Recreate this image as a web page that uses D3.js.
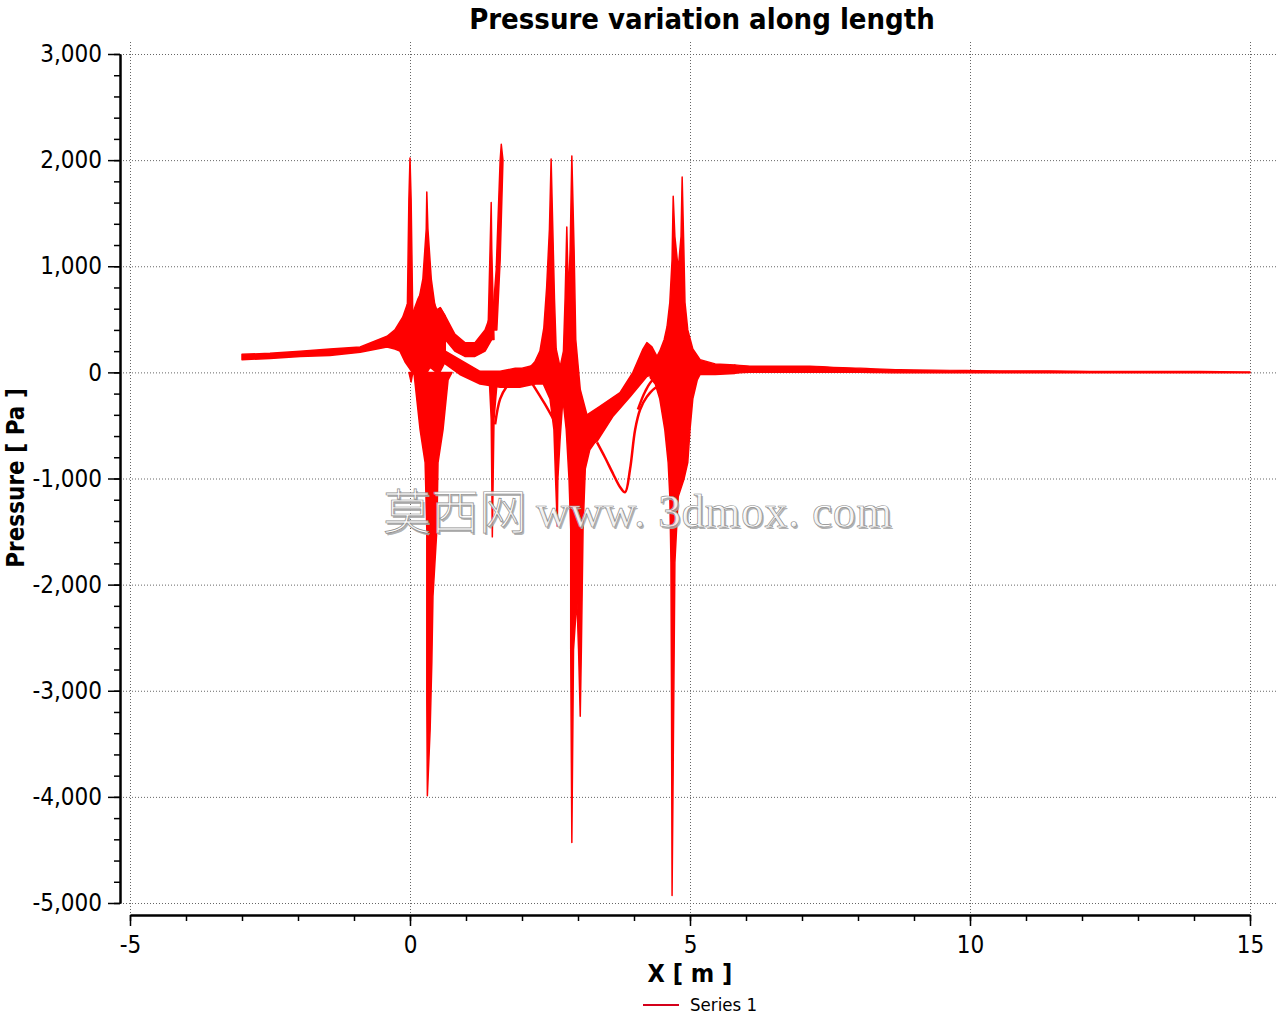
<!DOCTYPE html>
<html>
<head>
<meta charset="utf-8">
<script src="https://cdn.jsdelivr.net/npm/d3@7"></script>
<style>
  html, body { margin: 0; padding: 0; background: #fff; }
  #chart { width: 1276px; height: 1020px; }
  .axis text { font-family: "DejaVu Sans Condensed", "DejaVu Sans", sans-serif; font-stretch: condensed; font-size: 24px; fill: #000; }
  .axis path, .axis line { stroke: #000; }
  .grid line { stroke: #666; stroke-width: 1; stroke-dasharray: 1 2; }
  .title, .axis-label { font-family: "DejaVu Sans Condensed", "DejaVu Sans", sans-serif; font-stretch: condensed; font-weight: bold; fill: #000; }
</style>
</head>
<body>
<div id="chart"></div>
<script>
// Pressure variation along length
const xTicks = [-5, 0, 5, 10, 15];
const yTicks = [3000, 2000, 1000, 0, -1000, -2000, -3000, -4000, -5000];

// filled regions of the overlapping Series 1 curves, as [x (m), pressure (Pa)] outlines
const inletBand = [
  [-3.00, 170], [-2.50, 180], [-1.96, 200], [-1.43, 220], [-0.89, 240], [-0.41, 340], [-0.27, 400],
  [-0.13, 520], [-0.05, 640], [0.05, 560], [0.14, 690], [0.21, 760], [0.39, 710], [0.48, 590],
  [0.54, 610], [0.63, 530],
  [0.63, 100], [0.54, 10], [0.45, 10], [0.36, 50], [0.27, -30], [0.18, -50], [0.09, -30], [0.00, 30],
  [-0.09, 100], [-0.18, 200], [-0.27, 220], [-0.41, 240], [-0.89, 190], [-1.43, 160], [-1.96, 150],
  [-2.50, 130], [-3.00, 120]
];
const humpBand = [
  [0.54, 610], [0.63, 530], [0.80, 360], [0.98, 280], [1.16, 280], [1.34, 400], [1.46, 570],
  [1.46, 310], [1.34, 200], [1.16, 150], [0.98, 150], [0.80, 200], [0.63, 310]
];
const lowBand = [
  [0.63, 200], [0.89, 120], [1.25, 10], [1.61, 10], [1.88, 40], [2.00, 40], [2.23, 70],
  [2.23, -110], [1.96, -140], [1.61, -140], [1.25, -110], [0.89, -20], [0.63, 80]
];
const spikeA = [[-0.05, 500], [-0.02, 1630], [0.00, 2020], [0.02, 1630], [0.05, 500]];
const spikeB = [[0.11, 550], [0.23, 880], [0.29, 1350], [0.30, 1700], [0.32, 1350], [0.38, 880], [0.46, 570]];
const spikeC = [[1.39, 310], [1.43, 1160], [1.45, 1600], [1.46, 1160], [1.50, 310]];
const spikeD = [[1.46, 400], [1.54, 970], [1.61, 2000], [1.63, 2150], [1.66, 2000], [1.61, 1060], [1.55, 400]];
const dipA = [[-0.02, 0], [0.02, -90], [0.05, 0]];
const dipB = [
  [0.07, 0], [0.18, -540], [0.27, -850], [0.30, -1480], [0.30, -3080], [0.31, -3990], [0.36, -3360],
  [0.39, -2730], [0.41, -2110], [0.48, -1480], [0.50, -850], [0.59, -540], [0.68, -70], [0.75, 0]
];
const dipC = [[1.41, 0], [1.45, -440], [1.47, -1550], [1.50, -440], [1.57, 0]];
const throatMass = [
  [2.11, 30], [2.23, 100], [2.32, 200], [2.39, 420], [2.44, 800], [2.49, 1350], [2.52, 2010],
  [2.55, 1350], [2.58, 690], [2.61, 220], [2.68, 50], [2.74, 200], [2.77, 700], [2.80, 1370],
  [2.83, 700], [2.86, 1160], [2.89, 2040], [2.93, 1160], [2.96, 310], [3.04, -160], [3.16, -400],
  [3.34, -630], [3.21, -730], [3.13, -910], [3.09, -1480], [3.06, -2610], [3.04, -3240],
  [3.01, -2610], [2.98, -2140], [2.92, -2610], [2.89, -4430], [2.87, -2610], [2.87, -1480],
  [2.84, -1010], [2.79, -540], [2.73, -250], [2.68, -630], [2.64, -1010], [2.63, -1450],
  [2.60, -1010], [2.57, -540], [2.50, -250], [2.38, -110], [2.23, -110], [2.11, -70]
];
const riseBand = [
  [3.16, -400], [3.39, -320], [3.75, -190], [3.98, 0], [4.16, 220], [4.23, 280], [4.32, 240],
  [4.41, 150], [4.46, 10], [4.23, -40], [3.93, -230], [3.63, -410], [3.34, -650], [3.16, -700]
];
const outletMass = [
  [4.29, 30], [4.38, 120], [4.46, 200], [4.54, 310], [4.59, 430], [4.64, 660], [4.68, 1060],
  [4.70, 1660], [4.73, 1280], [4.79, 970], [4.84, 1280], [4.86, 1840], [4.89, 1160], [4.91, 660],
  [4.96, 400], [5.05, 220], [5.18, 120], [5.45, 80], [5.80, 70],
  [5.80, -10], [5.45, -20], [5.18, -20], [5.13, -70], [5.05, -250], [5.00, -540], [4.96, -850],
  [4.89, -1010], [4.79, -1170], [4.73, -1790], [4.71, -3080], [4.68, -4930], [4.67, -3080],
  [4.66, -1790], [4.64, -1170], [4.61, -850], [4.55, -540], [4.46, -250], [4.38, -110], [4.29, -50]
];

// downstream tail (thin band)
const tailX  = [5.80, 6.07, 6.61, 7.14, 7.50, 8.04, 8.75, 9.64, 10.54, 11.43, 12.32, 13.21, 14.11, 15.00];
const tailHi = [70, 60, 60, 60, 50, 40, 25, 20, 15, 15, 10, 10, 10, 5];
const tailLo = [-10, 0, 0, 0, 0, 0, -5, -5, -5, -5, -5, -5, -5, -5];

// single curves that separate from the bands
const loopTrace = [[3.34, -660], [3.48, -800], [3.63, -960], [3.75, -1080], [3.84, -1130], [3.93, -910],
  [4.02, -540], [4.11, -350], [4.23, -230], [4.41, -140], [4.55, -180]];
const hookTrace = [[1.52, -490], [1.61, -250], [1.73, -130], [1.88, -50], [2.00, -10]];
const cuspTrace = [[2.14, -70], [2.41, -300], [2.61, -490]];
const archTrace = [[4.07, -350], [4.20, -180], [4.34, -70], [4.50, -50]];

const fills = [inletBand, humpBand, lowBand, spikeA, spikeB, spikeC, spikeD, dipA, dipB, dipC,
  throatMass, riseBand, outletMass];
const traces = [loopTrace, hookTrace, cuspTrace, archTrace];

const W = 1276, H = 1020;
const red = "#ff0000";
const fmt = d => d3.format(",")(d).replace("\u2212", "-");

const svg = d3.select("#chart").append("svg")
  .attr("width", W).attr("height", H)
  .attr("viewBox", `0 0 ${W} ${H}`);

const x = d3.scaleLinear().domain([-5, 15]).range([130, 1250]);
const y = d3.scaleLinear().domain([-5000, 3000]).range([903, 54]);

// grid
const grid = svg.append("g").attr("class", "grid");
grid.selectAll(".gy").data(yTicks).join("line")
  .attr("x1", 120).attr("x2", W)
  .attr("y1", d => y(d) + 0.5).attr("y2", d => y(d) + 0.5);
grid.selectAll(".gx").data(xTicks).join("line")
  .attr("x1", d => x(d) + 0.5).attr("x2", d => x(d) + 0.5)
  .attr("y1", 42).attr("y2", 915);

// data
const plot = svg.append("g");
const outline = d3.line().x(d => x(d[0])).y(d => y(d[1])).curve(d3.curveLinearClosed);
plot.selectAll(".fill").data(fills).join("path")
  .attr("d", outline)
  .attr("fill", red).attr("stroke", red)
  .attr("stroke-width", 1.5).attr("stroke-linejoin", "round");

const tail = d3.area()
  .x((d, i) => x(tailX[i]))
  .y0((d, i) => y(tailLo[i]))
  .y1((d, i) => y(tailHi[i]))
  .curve(d3.curveMonotoneX);
plot.append("path").datum(tailX)
  .attr("d", tail)
  .attr("fill", red).attr("stroke", red).attr("stroke-width", 1.2);

const curve = d3.line().x(d => x(d[0])).y(d => y(d[1])).curve(d3.curveCatmullRom);
plot.selectAll(".trace").data(traces).join("path")
  .attr("d", curve)
  .attr("fill", "none").attr("stroke", red).attr("stroke-width", 2.5);

// axes
svg.append("g").attr("class", "axis")
  .attr("transform", "translate(120,0)")
  .call(d3.axisLeft(y).tickValues(yTicks).tickFormat(fmt).tickSize(12).tickSizeOuter(0).tickPadding(6));
svg.append("g").attr("class", "axis")
  .attr("transform", "translate(120,0)")
  .call(d3.axisLeft(y).tickValues(d3.range(-5000, 3001, 200)).tickFormat("").tickSize(6).tickSizeOuter(0));

svg.append("g").attr("class", "axis")
  .attr("transform", "translate(0,915)")
  .call(d3.axisBottom(x).tickValues(xTicks).tickFormat(fmt).tickSize(11).tickSizeOuter(0).tickPadding(10));
svg.append("g").attr("class", "axis")
  .attr("transform", "translate(0,915)")
  .call(d3.axisBottom(x).tickValues(d3.range(-5, 16, 1)).tickFormat("").tickSize(6).tickSizeOuter(0));

svg.selectAll(".axis path").attr("stroke-width", 2);
svg.selectAll(".axis line").attr("stroke-width", 1.5);

// titles
svg.append("text").attr("class", "title")
  .attr("x", 702).attr("y", 29).attr("text-anchor", "middle")
  .style("font-size", "29px")
  .text("Pressure variation along length");
svg.append("text").attr("class", "axis-label")
  .attr("x", 690).attr("y", 982).attr("text-anchor", "middle")
  .style("font-size", "25px")
  .text("X [ m ]");
svg.append("text").attr("class", "axis-label")
  .attr("transform", "translate(24,478) rotate(-90)")
  .attr("text-anchor", "middle")
  .style("font-size", "24px")
  .text("Pressure [ Pa ]");

// legend
svg.append("line")
  .attr("x1", 643).attr("x2", 679).attr("y1", 1005).attr("y2", 1005)
  .attr("stroke", "#d4001a").attr("stroke-width", 2);
svg.append("text")
  .attr("x", 690).attr("y", 1011)
  .style("font-family", "'DejaVu Sans Condensed', 'DejaVu Sans', sans-serif")
  .style("font-stretch", "condensed")
  .style("font-size", "18.5px")
  .text("Series 1");

// watermark
const wm = svg.append("g");
[["#a8a8a8", 1.5], ["#ffffff", 0]].forEach(([c, off]) => {
  const front = c === "#ffffff";
  wm.append("text")
    .attr("x", 383 + off).attr("y", 529 + off)
    .style("font-family", "'Noto Sans CJK SC'").style("font-weight", 300).style("font-size", "48px")
    .attr("fill", c).attr("fill-opacity", front ? 0.85 : 0.9)
    .attr("stroke", front ? "#8c8c8c" : "none").attr("stroke-width", 0.7)
    .text("莫西网");
  wm.append("text")
    .attr("x", 536 + off).attr("y", 527 + off)
    .attr("textLength", 356).attr("lengthAdjust", "spacing")
    .style("font-family", "'Liberation Serif', serif").style("font-size", "46px")
    .attr("fill", c).attr("fill-opacity", front ? 0.85 : 0.9)
    .attr("stroke", front ? "#8c8c8c" : "none").attr("stroke-width", 0.7)
    .text("www. 3dmox. com");
});
</script>
</body>
</html>
